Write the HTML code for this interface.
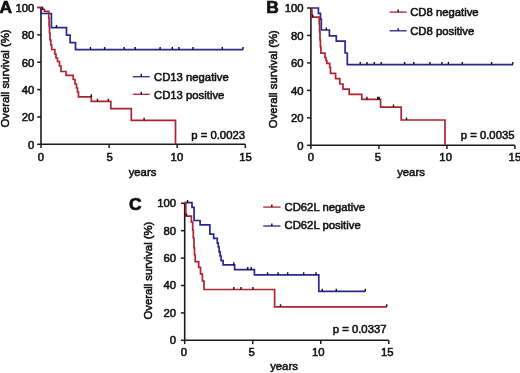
<!DOCTYPE html>
<html><head><meta charset="utf-8"><style>
html,body{margin:0;padding:0;background:#fff;width:520px;height:373px;overflow:hidden}
svg{display:block;will-change:transform}
text{font-family:"Liberation Sans",sans-serif;font-size:11.3px;fill:#111;stroke:#111;stroke-width:0.55px}
text.big{font-weight:bold;font-size:17.4px;stroke-width:0.7px}
</style></head><body>
<svg width="520" height="373" viewBox="0 0 520 373">
<rect width="520" height="373" fill="#fff"/>
<line x1="41" y1="7.5" x2="41" y2="144.3" stroke="#1a1a1a" stroke-width="1.6"/>
<line x1="41" y1="144.3" x2="245.3" y2="144.3" stroke="#1a1a1a" stroke-width="1.6"/>
<line x1="37.2" y1="7.50" x2="41" y2="7.50" stroke="#1a1a1a" stroke-width="1.5"/>
<text x="34.3" y="12.00" text-anchor="end">100</text>
<line x1="37.2" y1="34.86" x2="41" y2="34.86" stroke="#1a1a1a" stroke-width="1.5"/>
<text x="34.3" y="39.36" text-anchor="end">80</text>
<line x1="37.2" y1="62.22" x2="41" y2="62.22" stroke="#1a1a1a" stroke-width="1.5"/>
<text x="34.3" y="66.72" text-anchor="end">60</text>
<line x1="37.2" y1="89.58" x2="41" y2="89.58" stroke="#1a1a1a" stroke-width="1.5"/>
<text x="34.3" y="94.08" text-anchor="end">40</text>
<line x1="37.2" y1="116.94" x2="41" y2="116.94" stroke="#1a1a1a" stroke-width="1.5"/>
<text x="34.3" y="121.44" text-anchor="end">20</text>
<line x1="37.2" y1="144.30" x2="41" y2="144.30" stroke="#1a1a1a" stroke-width="1.5"/>
<text x="34.3" y="148.80" text-anchor="end">0</text>
<line x1="41.00" y1="144.3" x2="41.00" y2="148.10000000000002" stroke="#1a1a1a" stroke-width="1.5"/>
<text x="41.00" y="161.4" text-anchor="middle">0</text>
<line x1="109.10" y1="144.3" x2="109.10" y2="148.10000000000002" stroke="#1a1a1a" stroke-width="1.5"/>
<text x="109.60" y="161.4" text-anchor="middle">5</text>
<line x1="177.20" y1="144.3" x2="177.20" y2="148.10000000000002" stroke="#1a1a1a" stroke-width="1.5"/>
<text x="176.90" y="161.4" text-anchor="middle">10</text>
<line x1="245.30" y1="144.3" x2="245.30" y2="148.10000000000002" stroke="#1a1a1a" stroke-width="1.5"/>
<text x="245.60" y="161.4" text-anchor="middle">15</text>
<path d="M41 7.5H41.2V13.5H51.4V27.7H66.5V35.1H70.1V42.6H75.5V49.7H243" fill="none" stroke="#27278e" stroke-width="1.7"/>
<path d="M56.5 27.7v-2.6 M90.5 49.7v-2.6 M104.6 49.7v-2.6 M124.2 49.7v-2.6 M135.2 49.7v-2.6 M160.1 49.7v-2.6 M172.3 49.7v-2.6 M178.9 49.7v-2.6 M193 49.7v-2.6 M222.3 49.7v-2.6 M243 49.7v-2.6" fill="none" stroke="#111" stroke-width="1.4"/>
<path d="M37.5 7.5H42.4V9.4H44.4V11.4H48.7V18H49.1V26H49.5V33H50V40H50.8V45H51.7V49.5H54.8V54H56V58H57.5V61.5H59.5V66H61V71.5H66V75.4H73.2V79.5H75V84H76.5V88H77.5V92H78.5V96.9H91.3V101.3H110.8V108.6H131.3V120.4H175.5V144.4" fill="none" stroke="#ac2430" stroke-width="1.7"/>
<path d="M42.4 9.4v-2.6 M91.3 96.9v-2.6 M97.5 101.3v-2.6 M108.3 101.3v-2.6 M144.1 120.4v-2.6" fill="none" stroke="#111" stroke-width="1.4"/>
<line x1="132.8" y1="76.7" x2="149.7" y2="76.7" stroke="#27278e" stroke-width="1.3"/><line x1="141.25" y1="76.7" x2="141.25" y2="74.10000000000001" stroke="#111" stroke-width="1.4"/><text x="154" y="81.4">CD13 negative</text>
<line x1="132.8" y1="94.3" x2="149.7" y2="94.3" stroke="#ac2430" stroke-width="1.3"/><line x1="141.25" y1="94.3" x2="141.25" y2="91.7" stroke="#111" stroke-width="1.4"/><text x="154" y="98.8">CD13 positive</text>
<text x="245" y="138.6" text-anchor="end">p = 0.0023</text>
<text x="142.5" y="175.5" text-anchor="middle">years</text>
<text transform="translate(9.2 78.5) rotate(-90)" text-anchor="middle">Overall survival (%)</text>
<text x="-0.6" y="12.6" class="big">A</text>
<line x1="310.9" y1="8" x2="310.9" y2="145.3" stroke="#1a1a1a" stroke-width="1.6"/>
<line x1="310.9" y1="145.3" x2="514.9" y2="145.3" stroke="#1a1a1a" stroke-width="1.6"/>
<line x1="307.09999999999997" y1="8.00" x2="310.9" y2="8.00" stroke="#1a1a1a" stroke-width="1.5"/>
<text x="303.6" y="12.30" text-anchor="end">100</text>
<line x1="307.09999999999997" y1="35.46" x2="310.9" y2="35.46" stroke="#1a1a1a" stroke-width="1.5"/>
<text x="303.6" y="39.76" text-anchor="end">80</text>
<line x1="307.09999999999997" y1="62.92" x2="310.9" y2="62.92" stroke="#1a1a1a" stroke-width="1.5"/>
<text x="303.6" y="67.22" text-anchor="end">60</text>
<line x1="307.09999999999997" y1="90.38" x2="310.9" y2="90.38" stroke="#1a1a1a" stroke-width="1.5"/>
<text x="303.6" y="94.68" text-anchor="end">40</text>
<line x1="307.09999999999997" y1="117.84" x2="310.9" y2="117.84" stroke="#1a1a1a" stroke-width="1.5"/>
<text x="303.6" y="122.14" text-anchor="end">20</text>
<line x1="307.09999999999997" y1="145.30" x2="310.9" y2="145.30" stroke="#1a1a1a" stroke-width="1.5"/>
<text x="303.6" y="149.60" text-anchor="end">0</text>
<line x1="310.90" y1="145.3" x2="310.90" y2="149.10000000000002" stroke="#1a1a1a" stroke-width="1.5"/>
<text x="310.90" y="161.4" text-anchor="middle">0</text>
<line x1="378.90" y1="145.3" x2="378.90" y2="149.10000000000002" stroke="#1a1a1a" stroke-width="1.5"/>
<text x="378.00" y="161.4" text-anchor="middle">5</text>
<line x1="446.90" y1="145.3" x2="446.90" y2="149.10000000000002" stroke="#1a1a1a" stroke-width="1.5"/>
<text x="445.65" y="161.4" text-anchor="middle">10</text>
<line x1="514.90" y1="145.3" x2="514.90" y2="149.10000000000002" stroke="#1a1a1a" stroke-width="1.5"/>
<text x="514.90" y="161.4" text-anchor="middle">15</text>
<path d="M311.2 8H318.4V13.4H320.5V19.3H321.3V30H329.4V35.8H336.3V41.2H345.1V53H347.3V64.6H513" fill="none" stroke="#27278e" stroke-width="1.7"/>
<path d="M326.3 30v-2.6 M360.2 64.6v-2.6 M367 64.6v-2.6 M374.3 64.6v-2.6 M381.2 64.6v-2.6 M404.6 64.6v-2.6 M413.8 64.6v-2.6 M429.9 64.6v-2.6 M441.9 64.6v-2.6 M448.4 64.6v-2.6 M462.3 64.6v-2.6 M491.6 64.6v-2.6 M512.8 64.6v-2.6" fill="none" stroke="#111" stroke-width="1.4"/>
<path d="M311.2 8H311.9V17.2H319.2V24H319.6V32H320V40H320.4V47H320.9V53.1H325V57.5H326V60.5H326.8V63.4H329.7V67.5H330.5V73.4H335.6V78.6H339.8V84H343V89.1H349.2V94.4H361.8V99.4H380.6V107.1H401.2V120H445V145.3" fill="none" stroke="#ac2430" stroke-width="1.7"/>
<path d="M312.8 17.2v-2.6 M366.9 99.4v-2.6 M377.7 99.4v-2.6 M379.2 99.4v-2.6 M393.5 107.1v-2.6 M406.5 120v-2.6" fill="none" stroke="#111" stroke-width="1.4"/>
<line x1="389.6" y1="12.1" x2="406.7" y2="12.1" stroke="#ac2430" stroke-width="1.3"/><line x1="398.15" y1="12.1" x2="398.15" y2="9.5" stroke="#111" stroke-width="1.4"/><text x="410.2" y="15.8">CD8 negative</text>
<line x1="389.6" y1="30.8" x2="406.7" y2="30.8" stroke="#27278e" stroke-width="1.3"/><line x1="398.15" y1="30.8" x2="398.15" y2="28.2" stroke="#111" stroke-width="1.4"/><text x="410.2" y="34.5">CD8 positive</text>
<text x="514.5" y="139" text-anchor="end">p = 0.0035</text>
<text x="411" y="175.6" text-anchor="middle">years</text>
<text transform="translate(276.6 79.2) rotate(-90)" text-anchor="middle">Overall survival (%)</text>
<text x="266.3" y="12.6" class="big">B</text>
<line x1="184.7" y1="203.3" x2="184.7" y2="340.3" stroke="#1a1a1a" stroke-width="1.6"/>
<line x1="184.7" y1="340.3" x2="388.8" y2="340.3" stroke="#1a1a1a" stroke-width="1.6"/>
<line x1="180.89999999999998" y1="203.30" x2="184.7" y2="203.30" stroke="#1a1a1a" stroke-width="1.5"/>
<text x="176" y="207.20" text-anchor="end">100</text>
<line x1="180.89999999999998" y1="230.70" x2="184.7" y2="230.70" stroke="#1a1a1a" stroke-width="1.5"/>
<text x="176" y="234.60" text-anchor="end">80</text>
<line x1="180.89999999999998" y1="258.10" x2="184.7" y2="258.10" stroke="#1a1a1a" stroke-width="1.5"/>
<text x="176" y="262.00" text-anchor="end">60</text>
<line x1="180.89999999999998" y1="285.50" x2="184.7" y2="285.50" stroke="#1a1a1a" stroke-width="1.5"/>
<text x="176" y="289.40" text-anchor="end">40</text>
<line x1="180.89999999999998" y1="312.90" x2="184.7" y2="312.90" stroke="#1a1a1a" stroke-width="1.5"/>
<text x="176" y="316.80" text-anchor="end">20</text>
<line x1="180.89999999999998" y1="340.30" x2="184.7" y2="340.30" stroke="#1a1a1a" stroke-width="1.5"/>
<text x="176" y="344.20" text-anchor="end">0</text>
<line x1="184.70" y1="340.3" x2="184.70" y2="344.1" stroke="#1a1a1a" stroke-width="1.5"/>
<text x="184.00" y="356.4" text-anchor="middle">0</text>
<line x1="252.73" y1="340.3" x2="252.73" y2="344.1" stroke="#1a1a1a" stroke-width="1.5"/>
<text x="251.63" y="356.4" text-anchor="middle">5</text>
<line x1="320.77" y1="340.3" x2="320.77" y2="344.1" stroke="#1a1a1a" stroke-width="1.5"/>
<text x="318.27" y="356.4" text-anchor="middle">10</text>
<line x1="388.80" y1="340.3" x2="388.80" y2="344.1" stroke="#1a1a1a" stroke-width="1.5"/>
<text x="387.30" y="356.4" text-anchor="middle">15</text>
<path d="M184.6 202.7H192V207.4H194.1V220.5H200.1V224.8H209.9V234.1H213.7V238.4H217.3V243.1H218.3V247H219.1V251.8H220.1V256H221.1V260.6H223.1V264.8H234.6V269.7H254.4V274.8H318.8V291.3H365.5" fill="none" stroke="#27278e" stroke-width="1.7"/>
<path d="M187.6 202.7v-2.6 M233.8 264.8v-2.6 M247.7 269.7v-2.6 M251.2 269.7v-2.6 M267.5 274.8v-2.6 M278.1 274.8v-2.6 M287.7 274.8v-2.6 M303.7 274.8v-2.6 M316 274.8v-2.6 M322.3 291.3v-2.6 M336.3 291.3v-2.6 M365.3 291.3v-2.6" fill="none" stroke="#111" stroke-width="1.4"/>
<path d="M184.6 202.7H185.8V216.1H191.4V222.2H192.7V230H193.3V238H194V247.7H194.5V255H195.2V261.7H198.7V267.3H200.5V273.8H202.4V281H204V289.5H274.6V306.8H386.8" fill="none" stroke="#ac2430" stroke-width="1.7"/>
<path d="M186.5 216.1v-2.6 M233.8 289.5v-2.6 M241 289.5v-2.6 M253 289.5v-2.6 M280.5 306.8v-2.6 M386.8 306.8v-2.6" fill="none" stroke="#111" stroke-width="1.4"/>
<line x1="263.2" y1="207.1" x2="280.5" y2="207.1" stroke="#ac2430" stroke-width="1.3"/><line x1="271.85" y1="207.1" x2="271.85" y2="204.5" stroke="#111" stroke-width="1.4"/><text x="284.5" y="211.1">CD62L negative</text>
<line x1="263.2" y1="226" x2="280.5" y2="226" stroke="#27278e" stroke-width="1.3"/><line x1="271.85" y1="226" x2="271.85" y2="223.4" stroke="#111" stroke-width="1.4"/><text x="284.5" y="229">CD62L positive</text>
<text x="386.5" y="333.4" text-anchor="end">p = 0.0337</text>
<text x="284" y="369.6" text-anchor="middle">years</text>
<text transform="translate(151.6 270.6) rotate(-90)" text-anchor="middle">Overall survival (%)</text>
<text x="128.9" y="209.8" class="big">C</text>
</svg>
</body></html>
